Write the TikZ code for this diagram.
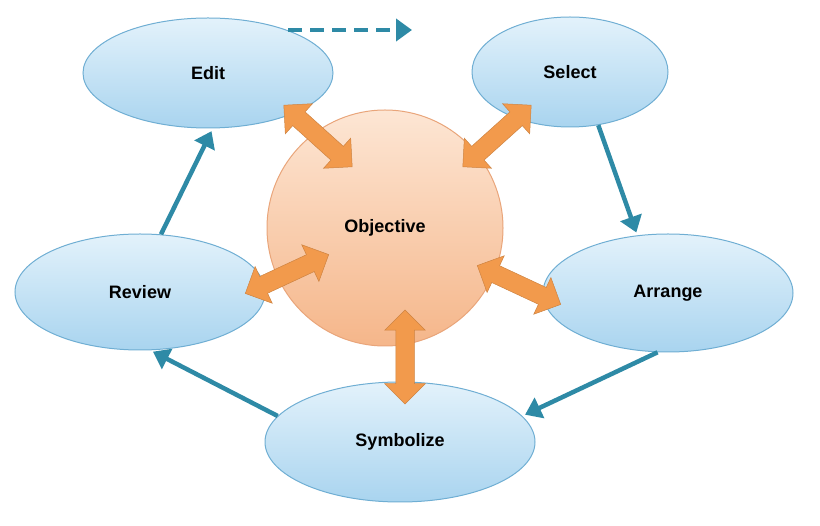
\documentclass[tikz,border=0pt]{standalone}
\usepackage{fontspec}
\setmainfont{Liberation Sans}
\usetikzlibrary{shapes.geometric,shapes.arrows,arrows.meta}
\definecolor{bluefillA}{HTML}{E3F2FB}
\definecolor{bluefillB}{HTML}{A9D4EF}
\definecolor{blueline}{HTML}{6FAED3}
\definecolor{teal}{HTML}{2E8AA6}
\definecolor{orA}{HTML}{FDE6D4}
\definecolor{orB}{HTML}{F5B68A}
\definecolor{orline}{HTML}{E9A57A}
\definecolor{orarrow}{HTML}{F29A4C}
\tikzset{
 stage/.style={ellipse, draw=blueline, line width=1pt, top color=bluefillA, bottom color=bluefillB, font=\fontsize{18}{21}\bfseries, inner sep=0pt},
 flow/.style={draw=teal, line width=4.5pt, -{Triangle[length=16pt,width=22pt]}},
 dbl/.style={double arrow, fill=orarrow, draw=orarrow!85!black, line width=0.5pt, minimum width=40pt, double arrow head extend=11pt, inner xsep=0pt, inner ysep=9pt, double arrow head indent=0pt}
}
\begin{document}
\begin{tikzpicture}[x=1pt,y=-1pt]
\useasboundingbox (0,0) rectangle (820,526);
\node[circle, draw=orline, line width=1pt, top color=orA, bottom color=orB, minimum size=236pt, font=\fontsize{18}{21}\bfseries] (obj) at (385,228) {Objective};
\node[stage, minimum width=250pt, minimum height=110pt] (edit) at (208,73) {Edit};
\node[stage, minimum width=196pt, minimum height=110pt] (select) at (570,72) {Select};
\node[stage, minimum width=250pt, minimum height=116pt] (review) at (140,292) {Review};
\node[stage, minimum width=250pt, minimum height=118pt] (arrange) at (668,293) {Arrange};
\node[stage, minimum width=270pt, minimum height=120pt] (symb) at (400,442) {Symbolize};
\coordinate (d1) at (288,30); \coordinate (d2) at (412,30);
\draw[flow, dash pattern=on 14pt off 8pt] (d1) -- (d2);
\draw[flow, shorten >=3pt] (select.-62) -- (arrange.118);
\draw[flow, shorten >=3pt] (arrange.-100) -- (symb.12);
\draw[flow, shorten >=3pt] (symb.168) -- (review.-80);
\draw[flow, shorten >=3pt] (review.70) -- (edit.-85);
\node[dbl, minimum height=92pt, rotate=-42] (a1) at (318,136) {};
\node[dbl, minimum height=92pt, rotate=42] (a2) at (497,136) {};
\node[dbl, minimum height=92pt, rotate=25] (a3) at (287,274) {};
\node[dbl, minimum height=92pt, rotate=-25] (a4) at (519,285) {};
\node[dbl, minimum height=94pt, rotate=90] (a5) at (405,357) {};
\end{tikzpicture}
\end{document}
